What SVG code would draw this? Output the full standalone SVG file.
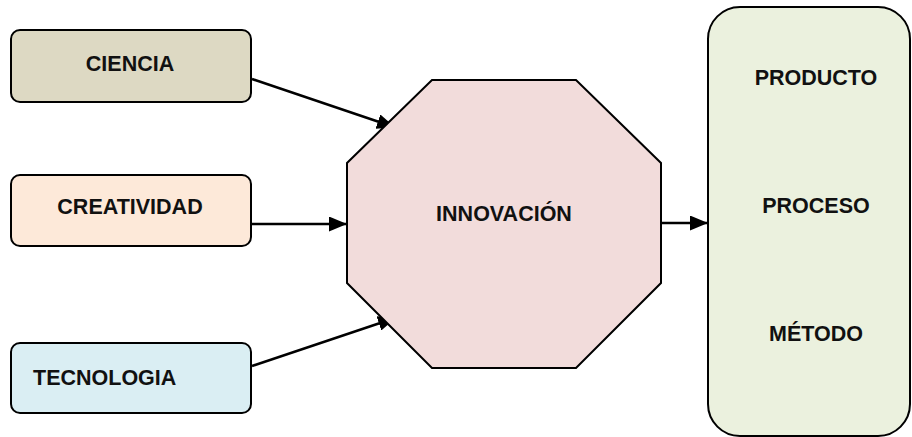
<svg xmlns="http://www.w3.org/2000/svg" width="912" height="437" viewBox="0 0 912 437">
<style>
.box{stroke:#000;stroke-width:2}
.t{font-family:"Liberation Sans",Arial,sans-serif;font-weight:bold;font-size:21.5px;fill:#111}
.c{stroke:#000;stroke-width:2.5;fill:none;marker-end:url(#ah)}
</style>
<defs>
<marker id="ah" viewBox="0 0 18 15" refX="17" refY="7.5" markerWidth="18" markerHeight="15" markerUnits="userSpaceOnUse" orient="auto">
<path d="M0,0 L18,7.5 L0,15 z" fill="#000"/>
</marker>
</defs>
<rect width="912" height="437" fill="#fff"/>
<g id="connectors">
<line class="c" x1="252" y1="79" x2="394" y2="127"/>
<line class="c" x1="252" y1="224" x2="346" y2="224"/>
<line class="c" x1="252" y1="366" x2="395" y2="318"/>
<line class="c" x1="658" y1="223" x2="707" y2="223"/>
</g>
<g id="ciencia">
<rect class="box" x="11" y="30" width="240" height="72" rx="9" fill="#ddd9c3"/>
<text class="t" x="130" y="71" text-anchor="middle">CIENCIA</text>
</g>
<g id="creatividad">
<rect class="box" x="11" y="175" width="240" height="71" rx="9" fill="#fde9d9"/>
<text class="t" x="130" y="214" text-anchor="middle">CREATIVIDAD</text>
</g>
<g id="tecnologia">
<rect class="box" x="11" y="343" width="240" height="70" rx="9" fill="#daeef3"/>
<text class="t" x="33" y="385">TECNOLOGIA</text>
</g>
<g id="innovacion">
<polygon class="box" points="432,80 576,80 661,163 661,283 576,368 432,368 347,283 347,163" fill="#f2dcdb"/>
<text class="t" x="504" y="221" text-anchor="middle">INNOVACIÓN</text>
</g>
<g id="resultados">
<rect class="box" x="708" y="7" width="202" height="429" rx="32" fill="#ebf1de"/>
<text class="t" x="816" y="85" text-anchor="middle">PRODUCTO</text>
<text class="t" x="816" y="213" text-anchor="middle">PROCESO</text>
<text class="t" x="816" y="341" text-anchor="middle">MÉTODO</text>
</g>
</svg>
